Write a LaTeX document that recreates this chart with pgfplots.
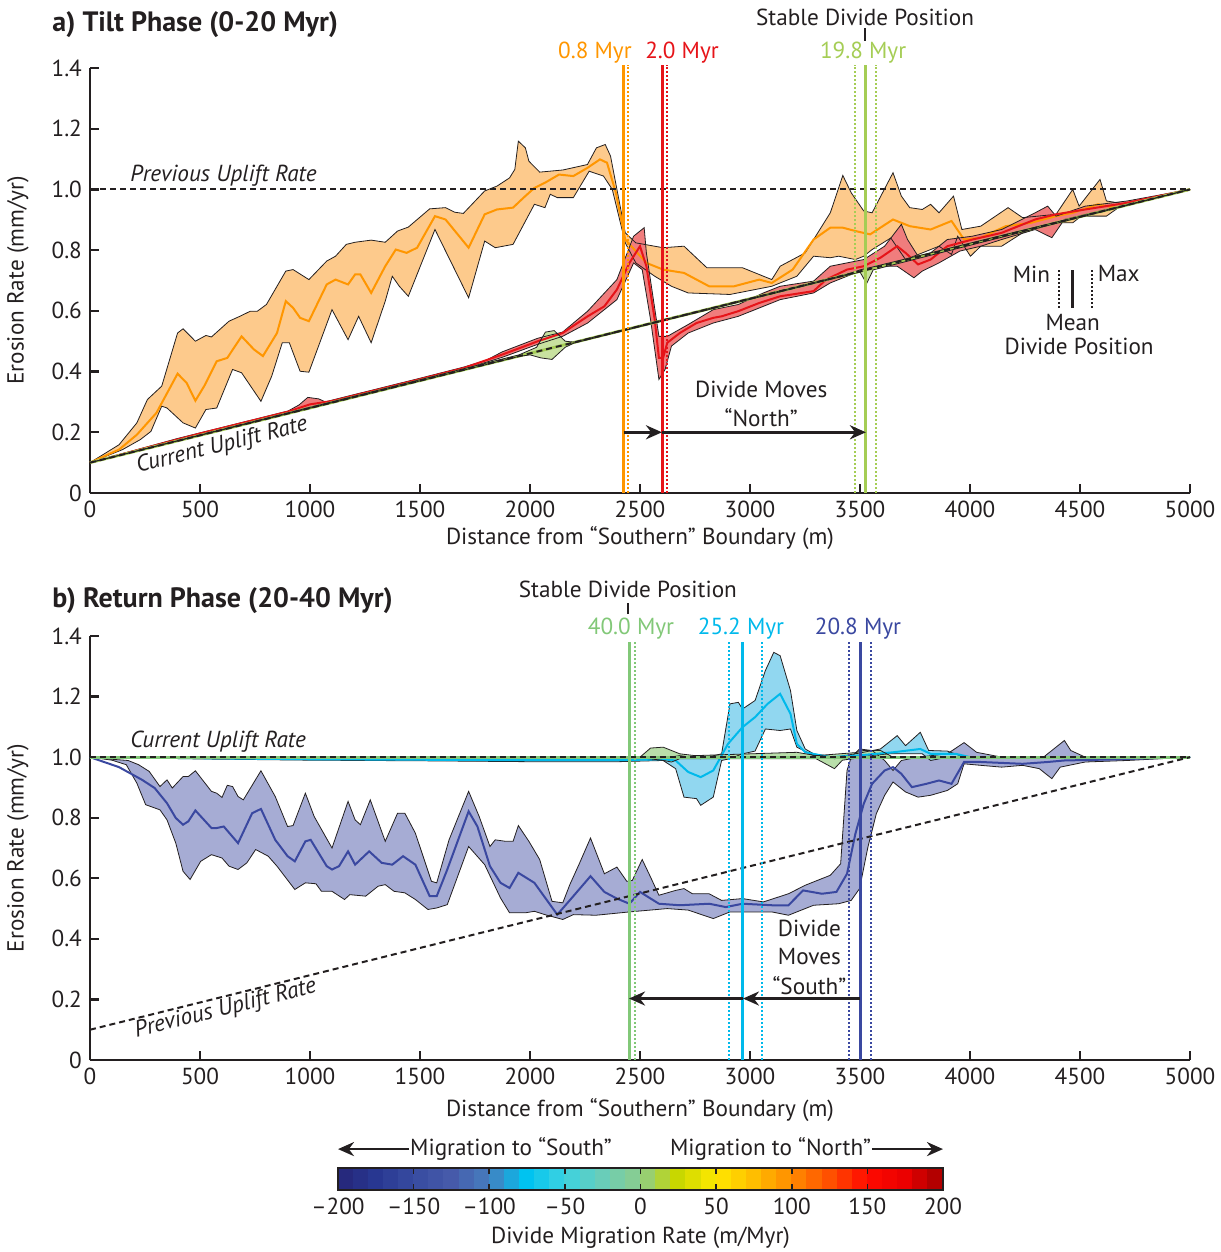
\documentclass[border=0pt]{standalone}
\usepackage{fontspec}
\setmainfont{PT Sans}
\usepackage{pgfplots}
\usepackage{pgfplotstable}
\pgfplotsset{compat=1.18}
\usepgfplotslibrary{fillbetween}
\usetikzlibrary{arrows.meta}

\definecolor{txt}{RGB}{35,31,32}
\definecolor{orfill}{RGB}{253,202,140}
\definecolor{orline}{RGB}{255,150,0}
\definecolor{redfill}{RGB}{240,125,125}
\definecolor{redline}{RGB}{230,20,25}
\definecolor{gtfill}{RGB}{200,225,160}
\definecolor{gtline}{RGB}{165,205,85}
\definecolor{blfill}{RGB}{166,172,212}
\definecolor{blline}{RGB}{58,72,160}
\definecolor{cyfill}{RGB}{145,215,240}
\definecolor{cyline}{RGB}{0,185,235}
\definecolor{gbfill}{RGB}{185,222,170}
\definecolor{gbline}{RGB}{130,200,120}

% ---------- Panel a: 0.8 Myr (orange)
\pgfplotstableread{
x y
0 0.1
132 0.159
213 0.231
261 0.308
326 0.352
398 0.527
423 0.541
479 0.5
527 0.519
552 0.514
632 0.566
681 0.582
729 0.599
761 0.599
802 0.621
890 0.731
923 0.736
995 0.703
1076 0.764
1116 0.78
1165 0.819
1205 0.826
1278 0.833
1342 0.826
1398 0.863
1447 0.876
1544 0.936
1616 0.94
1657 0.925
1697 0.921
1794 0.995
1850 1.011
1907 1.038
1931 1.066
1947 1.159
1979 1.137
1995 1.093
2044 1.057
2149 1.064
2261 1.082
2302 1.137
2342 1.148
2366 1.11
2433 0.857
2481 0.824
2605 0.808
2700 0.813
2804 0.742
2890 0.742
2966 0.742
3099 0.703
3137 0.747
3251 0.791
3365 0.923
3422 1.046
3460 0.989
3517 0.929
3555 0.923
3650 1.055
3688 0.978
3726 0.94
3783 0.934
3821 0.951
3859 0.923
3925 0.978
3963 0.868
4049 0.879
4173 0.94
4239 0.907
4391 0.918
4467 1.0
4496 0.945
4591 1.033
4620 0.962
4715 0.951
5000 1.0
}\tOU
\pgfplotstableread{
x y
0 0.1
132 0.143
213 0.192
302 0.264
398 0.393
439 0.363
479 0.304
519 0.352
576 0.434
624 0.445
689 0.516
745 0.473
786 0.451
850 0.527
890 0.632
923 0.61
955 0.577
995 0.566
1076 0.687
1116 0.703
1173 0.687
1205 0.72
1229 0.72
1278 0.659
1342 0.747
1390 0.802
1439 0.791
1487 0.808
1568 0.912
1616 0.901
1721 0.808
1794 0.918
1850 0.934
1923 0.94
1971 0.973
2020 1.005
2068 1.022
2132 1.049
2197 1.044
2261 1.071
2318 1.099
2350 1.088
2390 0.99
2433 0.835
2529 0.758
2605 0.736
2700 0.725
2814 0.681
2928 0.681
3042 0.703
3099 0.692
3194 0.736
3289 0.835
3365 0.874
3422 0.874
3479 0.863
3546 0.852
3650 0.901
3726 0.879
3821 0.868
3916 0.896
3973 0.835
4049 0.841
4163 0.879
4277 0.89
4391 0.912
4467 0.923
4581 0.951
4658 0.94
5000 1.0
}\tOM
\pgfplotstableread{
x y
0 0.1
148 0.143
229 0.176
277 0.203
326 0.286
350 0.28
423 0.231
479 0.214
527 0.275
576 0.28
648 0.407
689 0.396
777 0.302
826 0.385
874 0.495
906 0.495
955 0.401
995 0.398
1100 0.604
1173 0.505
1221 0.582
1278 0.495
1342 0.632
1374 0.714
1406 0.681
1447 0.648
1568 0.868
1721 0.643
1794 0.83
1842 0.808
1923 0.819
2020 0.951
2068 0.94
2092 0.984
2124 0.973
2197 0.973
2269 1.06
2334 1.044
2374 1.0
2433 0.824
2481 0.758
2567 0.714
2643 0.681
2719 0.659
2909 0.654
3099 0.681
3213 0.714
3289 0.78
3365 0.775
3403 0.78
3479 0.769
3517 0.78
3555 0.802
3640 0.84
3707 0.769
3783 0.791
3859 0.813
3916 0.786
3944 0.846
4002 0.78
4049 0.813
4144 0.813
4239 0.857
4391 0.89
4467 0.89
4505 0.912
4620 0.912
4696 0.951
5000 1.0
}\tOL
% ---------- Panel a: 2.0 Myr (red)
\pgfplotstableread{
x y
0 0.1
400 0.18
800 0.252
900 0.27
950 0.29
990 0.315
1040 0.31
1070 0.3
1100 0.306
1300 0.342
1500 0.378
1700 0.415
1800 0.437
1874 0.465
2036 0.51
2148 0.53
2262 0.599
2395 0.703
2471 0.846
2519 0.874
2529 0.791
2586 0.516
2624 0.516
2719 0.555
2833 0.604
2947 0.621
3061 0.659
3137 0.681
3289 0.698
3365 0.747
3441 0.758
3517 0.769
3612 0.813
3688 0.885
3716 0.835
3764 0.78
3821 0.791
3897 0.835
4011 0.846
4144 0.868
4296 0.923
4353 0.945
4391 0.912
4524 0.945
4715 0.962
5000 1.0
}\tRU
\pgfplotstableread{
x y
0 0.1
500 0.196
900 0.268
1000 0.292
1100 0.303
1500 0.375
1700 0.412
1874 0.456
2036 0.5
2148 0.527
2262 0.582
2338 0.615
2395 0.67
2452 0.758
2500 0.813
2529 0.747
2567 0.571
2586 0.445
2605 0.445
2624 0.495
2681 0.527
2757 0.56
2833 0.577
2871 0.582
2947 0.599
3042 0.626
3137 0.648
3289 0.665
3346 0.703
3441 0.736
3517 0.747
3593 0.775
3669 0.813
3707 0.791
3764 0.753
3821 0.769
3897 0.813
4011 0.835
4144 0.857
4296 0.901
4391 0.918
4524 0.934
4715 0.956
5000 1.0
}\tRM
\pgfplotstableread{
x y
0 0.1
500 0.192
1000 0.283
1500 0.372
1700 0.408
1874 0.447
2036 0.49
2148 0.516
2262 0.56
2395 0.637
2471 0.758
2510 0.736
2548 0.571
2586 0.374
2614 0.407
2643 0.484
2719 0.527
2833 0.56
2947 0.582
3061 0.615
3137 0.637
3289 0.659
3365 0.692
3479 0.725
3536 0.736
3612 0.747
3669 0.747
3745 0.709
3783 0.731
3859 0.758
3954 0.797
4049 0.813
4144 0.835
4296 0.868
4372 0.841
4429 0.901
4620 0.934
5000 1.0
}\tRL
% ---------- Panel a: 19.8 Myr (green)
\pgfplotstableread{
x y
0 0.1
1950 0.455
2030 0.48
2070 0.53
2110 0.535
2160 0.5
2200 0.497
3450 0.722
3500 0.735
3560 0.745
5000 1.0
}\tGU
\pgfplotstableread{
x y
0 0.1
1950 0.45
2000 0.455
2050 0.445
2100 0.44
2160 0.48
2200 0.494
3500 0.728
3530 0.69
3560 0.735
5000 1.0
}\tGL
% ---------- Panel b: 20.8 Myr (blue)
\pgfplotstableread{
x y
0 1.0
100 0.993
173 0.989
221 0.975
269 0.953
318 0.903
350 0.925
374 0.898
423 0.936
447 0.936
479 0.955
552 0.887
576 0.881
600 0.867
624 0.907
648 0.903
673 0.87
697 0.859
777 0.955
842 0.87
898 0.771
923 0.774
979 0.881
1019 0.804
1100 0.7
1173 0.854
1205 0.793
1229 0.777
1274 0.859
1342 0.722
1398 0.815
1431 0.815
1479 0.749
1552 0.59
1576 0.585
1632 0.727
1721 0.887
1769 0.804
1818 0.705
1842 0.727
1890 0.722
1923 0.722
1947 0.774
1995 0.722
2044 0.662
2100 0.524
2149 0.519
2181 0.579
2224 0.648
2275 0.733
2338 0.615
2395 0.637
2440 0.59
2465 0.593
2510 0.662
2548 0.604
2586 0.544
2662 0.56
2700 0.566
2738 0.549
2814 0.549
2871 0.527
2966 0.533
3061 0.522
3175 0.549
3251 0.577
3365 0.61
3412 0.648
3441 0.956
3460 1.0
3498 1.027
3555 1.022
3612 0.989
3650 0.956
3688 0.989
3764 1.0
3897 1.011
3973 1.048
4030 1.016
4144 1.0
4334 1.0
4429 1.055
4458 1.022
4524 1.0
5000 1.0
}\tBU
\pgfplotstableread{
x y
0 1.0
132 0.967
237 0.925
294 0.898
350 0.848
390 0.799
423 0.777
447 0.788
479 0.824
552 0.766
576 0.766
608 0.771
673 0.716
737 0.815
777 0.829
842 0.727
898 0.673
931 0.656
979 0.722
1003 0.727
1076 0.64
1100 0.629
1132 0.64
1173 0.689
1205 0.645
1269 0.689
1326 0.651
1374 0.645
1423 0.673
1479 0.645
1544 0.541
1576 0.541
1624 0.629
1721 0.821
1761 0.771
1818 0.64
1866 0.585
1907 0.568
1947 0.618
2020 0.585
2124 0.48
2197 0.541
2275 0.607
2338 0.555
2395 0.533
2452 0.516
2500 0.555
2586 0.516
2681 0.511
2814 0.516
2890 0.505
2966 0.516
3099 0.511
3175 0.511
3241 0.56
3327 0.549
3393 0.555
3441 0.615
3479 0.747
3517 0.846
3555 0.912
3612 0.956
3650 0.967
3688 0.945
3736 0.901
3802 0.912
3859 0.923
3916 0.912
3973 0.984
4049 0.984
4239 0.978
4353 0.984
4429 0.989
4620 0.992
5000 1.0
}\tBM
\pgfplotstableread{
x y
0 1.0
100 0.99
165 0.975
213 0.914
253 0.843
318 0.826
350 0.793
390 0.716
423 0.623
455 0.596
503 0.656
552 0.678
600 0.667
632 0.64
673 0.629
713 0.651
753 0.695
810 0.673
850 0.64
931 0.563
979 0.585
1027 0.582
1052 0.557
1100 0.557
1157 0.53
1181 0.546
1253 0.541
1310 0.574
1342 0.579
1382 0.557
1431 0.552
1479 0.53
1536 0.497
1576 0.502
1624 0.513
1721 0.705
1794 0.645
1866 0.535
1907 0.486
1979 0.486
2020 0.491
2068 0.48
2149 0.464
2197 0.48
2300 0.478
2452 0.489
2624 0.5
2719 0.495
2833 0.467
2909 0.489
3099 0.489
3175 0.478
3289 0.511
3403 0.516
3460 0.527
3498 0.566
3536 0.703
3574 0.813
3612 0.874
3650 0.918
3707 0.885
3764 0.868
3821 0.874
3897 0.89
3944 0.912
3973 0.978
4049 0.973
4144 0.967
4239 0.973
4315 0.962
4372 0.929
4410 0.967
4524 0.984
4715 0.989
5000 1.0
}\tBL
% ---------- Panel b: 25.2 Myr (cyan)
\pgfplotstableread{
x y
0 1.0
500 0.997
1000 0.995
1500 0.993
2000 0.993
2400 0.993
2605 0.997
2681 1.005
2776 0.995
2871 1.011
2909 1.176
2947 1.181
2966 1.159
3023 1.187
3070 1.286
3108 1.346
3137 1.335
3184 1.22
3213 1.088
3251 1.027
3289 1.011
3384 1.0
3479 1.011
3593 1.027
3669 1.071
3707 1.038
3774 1.082
3812 1.022
3897 1.02
3973 1.0
5000 1.0
}\tCU
\pgfplotstableread{
x y
0 1.0
1000 0.993
2000 0.99
2400 0.99
2605 0.993
2662 0.989
2719 0.951
2776 0.934
2833 0.956
2900 1.044
2966 1.099
3023 1.132
3080 1.176
3137 1.209
3184 1.143
3213 1.044
3251 1.016
3365 1.0
3479 1.005
3650 1.016
3774 1.027
3821 1.011
3935 1.011
4000 1.0
5000 1.0
}\tCM
\pgfplotstableread{
x y
0 1.0
500 0.994
1000 0.99
1500 0.988
2000 0.985
2400 0.985
2605 0.989
2662 0.962
2700 0.868
2757 0.863
2776 0.841
2833 0.868
2871 0.989
2909 0.995
2966 1.011
3023 1.02
3070 1.093
3137 1.088
3184 1.093
3213 1.033
3289 1.005
3384 0.995
3479 1.0
3631 1.011
3783 1.011
3821 0.989
3900 1.0
5000 1.0
}\tCL
% ---------- Panel b: 40.0 Myr (green)
\pgfplotstableread{
x y
0 1.0
2500 1.0
2548 1.03
2605 1.033
2681 1.011
2750 1.005
3213 1.016
3300 1.005
3480 1.015
3517 1.022
3593 1.022
3650 1.0
5000 1.0
}\tHU
\pgfplotstableread{
x y
0 1.0
2500 0.998
2600 0.99
2643 0.984
2681 0.995
3300 0.995
3384 0.962
3420 0.99
3500 0.998
5000 1.0
}\tHL

\pgfplotsset{
  colormap={divmig}{rgb255=(38,38,120) rgb255=(40,55,145) rgb255=(55,75,160)
    rgb255=(70,90,170) rgb255=(70,125,190) rgb255=(0,195,240) rgb255=(60,210,225)
    rgb255=(105,205,185) rgb255=(140,205,140) rgb255=(200,215,0) rgb255=(255,232,0)
    rgb255=(255,190,0) rgb255=(255,140,0) rgb255=(255,80,0) rgb255=(255,10,0)
    rgb255=(235,0,0) rgb255=(165,0,0)},
  panel/.style={
    scale only axis, width=550pt, anchor=south west,
    xmin=0, xmax=5000, ymin=0, ymax=1.4,
    axis lines=left, axis line style={-, line width=1.2pt, color=txt},
    tick align=inside, major tick length=4.5pt,
    tick style={line width=1.2pt, color=txt},
    xtick={0,500,...,5000},
    xticklabels={0,500,1000,1500,2000,2500,3000,3500,4000,4500,5000},
    ytick={0,0.2,0.4,0.6,0.8,1.0,1.2,1.4},
    yticklabels={0,0.2,0.4,0.6,0.8,1.0,1.2,1.4},
    /pgf/number format/assume math mode=true,
    tick label style={color=txt},
    xlabel={Distance from “Southern” Boundary (m)},
    ylabel={Erosion Rate (mm/yr)},
    label style={color=txt},
    clip=false,
  },
  band/.style={draw=txt, line width=0.4pt, forget plot},
  hid/.style={draw=none, forget plot},
  dline/.style={txt, line width=1pt, dash pattern=on 3pt off 2pt, forget plot},
  vsol/.style={line width=1.5pt, forget plot},
  vdot/.style={line width=1pt, dash pattern=on 1pt off 1pt, forget plot},
}

\begin{document}
\fontsize{11.6}{13.6}\selectfont
\begin{tikzpicture}

% ================= Panel a
\begin{axis}[panel, at={(45pt,-246.5pt)}, height=212.5pt,
  xlabel style={at={(axis description cs:0.5,-0.106)}, anchor=center},
  ylabel style={at={(axis description cs:-0.0655,0.5)}, anchor=center}]
% orange band
\addplot[hid, name path=ou] table {\tOU};
\addplot[hid, name path=ol] table {\tOL};
\addplot[orfill, forget plot] fill between[of=ou and ol];
\addplot[band] table {\tOU};
\addplot[band] table {\tOL};
\addplot[orline, line width=1pt, forget plot] table {\tOM};
% red band
\addplot[hid, name path=ru] table {\tRU};
\addplot[hid, name path=rl] table {\tRL};
\addplot[redfill, forget plot] fill between[of=ru and rl];
\addplot[band] table {\tRU};
\addplot[band] table {\tRL};
\addplot[redline, line width=1pt, forget plot] table {\tRM};
% 19.8 Myr mean (along current uplift line)
\addplot[gtline, line width=1.4pt, forget plot] coordinates {(0,0.1) (5000,1.0)};
% green band
\addplot[hid, name path=gu] table {\tGU};
\addplot[hid, name path=gl] table {\tGL};
\addplot[gtfill, forget plot] fill between[of=gu and gl];
\addplot[band] table {\tGU};
\addplot[band] table {\tGL};
% uplift reference lines
\addplot[dline] coordinates {(0,0.1) (5000,1.0)};
\addplot[dline] coordinates {(0,1.0) (5000,1.0)};
% divide positions
\addplot[vsol, orline] coordinates {(2425,0) (2425,1.41)};
\addplot[vdot, orline] coordinates {(2447,0) (2447,1.41)};
\addplot[vsol, redline] coordinates {(2600,0) (2600,1.41)};
\addplot[vdot, redline] coordinates {(2622,0) (2622,1.41)};
\addplot[vsol, gtline] coordinates {(3527,0) (3527,1.41)};
\addplot[vdot, gtline] coordinates {(3475,0) (3475,1.41)};
\addplot[vdot, gtline] coordinates {(3574,0) (3574,1.41)};
% arrows
\draw[txt, line width=1.5pt, -{Stealth[length=8pt,width=7pt]}] (axis cs:2425,0.2) -- (axis cs:2600,0.2);
\draw[txt, line width=1.5pt, -{Stealth[length=8pt,width=7pt]}] (axis cs:2600,0.2) -- (axis cs:3527,0.2);
% labels
\node[txt] at (axis cs:3523,1.566) {Stable Divide Position};
\draw[txt, line width=1.2pt] (axis cs:3523,1.49) -- (axis cs:3523,1.533);
\node[text=orline] at (axis cs:2295,1.45) {0.8 Myr};
\node[text=redline] at (axis cs:2691,1.45) {2.0 Myr};
\node[text=gtline] at (axis cs:3514,1.45) {19.8 Myr};
\node[txt] at (axis cs:3051,0.341) {Divide Moves};
\node[txt] at (axis cs:3051,0.247) {“North”};
\node[txt, anchor=west, inner sep=0pt, font=\itshape] at (axis cs:182,1.046) {Previous Uplift Rate};
\node[txt, rotate=14, font=\itshape] at (axis cs:600,0.155) {Current Uplift Rate};
% min/mean/max key
\draw[txt, line width=1pt, dash pattern=on 1pt off 1pt] (axis cs:4405,0.61) -- (axis cs:4405,0.736);
\draw[txt, line width=1.5pt] (axis cs:4467,0.61) -- (axis cs:4467,0.736);
\draw[txt, line width=1pt, dash pattern=on 1pt off 1pt] (axis cs:4553,0.61) -- (axis cs:4553,0.736);
\node[txt, anchor=east, inner sep=1pt] at (axis cs:4375,0.722) {Min};
\node[txt, anchor=west, inner sep=1pt] at (axis cs:4570,0.722) {Max};
\node[txt] at (axis cs:4467,0.563) {Mean};
\node[txt] at (axis cs:4496,0.484) {Divide Position};
\end{axis}

% ================= Panel b
\begin{axis}[panel, at={(45pt,-530pt)}, height=212pt,
  xlabel style={at={(axis description cs:0.5,-0.118)}, anchor=center},
  ylabel style={at={(axis description cs:-0.0655,0.5)}, anchor=center}]
% blue band
\addplot[hid, name path=bu] table {\tBU};
\addplot[hid, name path=bl] table {\tBL};
\addplot[blfill, forget plot] fill between[of=bu and bl];
\addplot[band] table {\tBU};
\addplot[band] table {\tBL};
\addplot[blline, line width=1pt, forget plot] table {\tBM};
% cyan band
\addplot[hid, name path=cu] table {\tCU};
\addplot[hid, name path=cl] table {\tCL};
\addplot[cyfill, forget plot] fill between[of=cu and cl];
\addplot[band] table {\tCU};
\addplot[band] table {\tCL};
\addplot[cyline, line width=1pt, forget plot] table {\tCM};
% green band
\addplot[hid, name path=hu] table {\tHU};
\addplot[hid, name path=hl] table {\tHL};
\addplot[gbfill, forget plot] fill between[of=hu and hl];
\addplot[band] table {\tHU};
\addplot[band] table {\tHL};
\addplot[gbline, line width=1.6pt, forget plot] coordinates {(0,1.0) (5000,1.0)};
% uplift reference lines
\addplot[dline] coordinates {(0,1.0) (5000,1.0)};
\addplot[dline] coordinates {(0,0.1) (5000,1.0)};
% divide positions
\addplot[vsol, gbline] coordinates {(2450,0) (2450,1.38)};
\addplot[vdot, gbline] coordinates {(2476,0) (2476,1.38)};
\addplot[vsol, cyline] coordinates {(2968,0) (2968,1.38)};
\addplot[vdot, cyline] coordinates {(2903,0) (2903,1.38)};
\addplot[vdot, cyline] coordinates {(3053,0) (3053,1.38)};
\addplot[vsol, blline] coordinates {(3500,0) (3500,1.38)};
\addplot[vdot, blline] coordinates {(3452,0) (3452,1.38)};
\addplot[vdot, blline] coordinates {(3551,0) (3551,1.38)};
% arrows
\draw[txt, line width=1.5pt, -{Stealth[length=8pt,width=7pt]}] (axis cs:3500,0.203) -- (axis cs:2968,0.203);
\draw[txt, line width=1.5pt, -{Stealth[length=8pt,width=7pt]}] (axis cs:2968,0.203) -- (axis cs:2450,0.203);
% labels
\node[txt] at (axis cs:2445,1.555) {Stable Divide Position};
\draw[txt, line width=1.2pt] (axis cs:2445,1.472) -- (axis cs:2445,1.509);
\node[text=gbline] at (axis cs:2459,1.426) {40.0 Myr};
\node[text=cyline] at (axis cs:2959,1.426) {25.2 Myr};
\node[text=blline] at (axis cs:3491,1.426) {20.8 Myr};
\node[txt] at (axis cs:3270,0.434) {Divide};
\node[txt] at (axis cs:3270,0.341) {Moves};
\node[txt] at (axis cs:3270,0.247) {“South”};
\node[txt, anchor=west, inner sep=0pt, font=\itshape] at (axis cs:182,1.05) {Current Uplift Rate};
\node[txt, rotate=14, font=\itshape] at (axis cs:616,0.168) {Previous Uplift Rate};
\end{axis}

% ================= Colour bar
\begin{axis}[at={(169pt,-595pt)}, anchor=south west, scale only axis,
  width=302.5pt, height=11pt, xmin=-200, xmax=200, ymin=0, ymax=1,
  colormap name=divmig, ytick=\empty,
  xtick={-200,-150,...,200},
  xticklabels={–200,–150,–100,–50,0,50,100,150,200},
  /pgf/number format/assume math mode=true,
  tick label style={color=txt},
  tick align=inside, xtick pos=both, xticklabel pos=lower, major tick length=3pt,
  tick style={line width=0.8pt, color=txt},
  axis line style={line width=1.4pt, color=txt}, axis on top,
  xlabel={Divide Migration Rate (m/Myr)},
  xlabel style={at={(axis description cs:0.5,-2.18)}, anchor=center, color=txt},
  clip=false]
\addplot[surf, shader=flat mean, point meta=x, mesh/cols=41, forget plot] coordinates {
(-200,0) (-190,0) (-180,0) (-170,0) (-160,0) (-150,0) (-140,0) (-130,0) (-120,0) (-110,0)
(-100,0) (-90,0) (-80,0) (-70,0) (-60,0) (-50,0) (-40,0) (-30,0) (-20,0) (-10,0)
(0,0) (10,0) (20,0) (30,0) (40,0) (50,0) (60,0) (70,0) (80,0) (90,0)
(100,0) (110,0) (120,0) (130,0) (140,0) (150,0) (160,0) (170,0) (180,0) (190,0) (200,0)
(-200,1) (-190,1) (-180,1) (-170,1) (-160,1) (-150,1) (-140,1) (-130,1) (-120,1) (-110,1)
(-100,1) (-90,1) (-80,1) (-70,1) (-60,1) (-50,1) (-40,1) (-30,1) (-20,1) (-10,1)
(0,1) (10,1) (20,1) (30,1) (40,1) (50,1) (60,1) (70,1) (80,1) (90,1)
(100,1) (110,1) (120,1) (130,1) (140,1) (150,1) (160,1) (170,1) (180,1) (190,1) (200,1)
};
\draw[txt, line width=1.3pt, -{Stealth[length=8pt,width=7pt]}] (axis cs:-153,1.86) -- (axis cs:-200,1.86);
\draw[txt, line width=1.3pt, -{Stealth[length=8pt,width=7pt]}] (axis cs:153,1.86) -- (axis cs:200,1.86);
\node[txt] at (axis cs:-85.6,1.86) {Migration to “South”};
\node[txt] at (axis cs:86,1.86) {Migration to “North”};
\end{axis}

% titles
\node[txt, anchor=west, inner sep=0pt, font=\bfseries\fontsize{14}{16}\selectfont] at (26pt,-12.5pt) {a) Tilt Phase (0-20 Myr)};
\node[txt, anchor=west, inner sep=0pt, font=\bfseries\fontsize{14}{16}\selectfont] at (26pt,-300.5pt) {b) Return Phase (20-40 Myr)};
\pgfresetboundingbox
\useasboundingbox (0,0) rectangle (610pt,-626pt);
\end{tikzpicture}
\end{document}
